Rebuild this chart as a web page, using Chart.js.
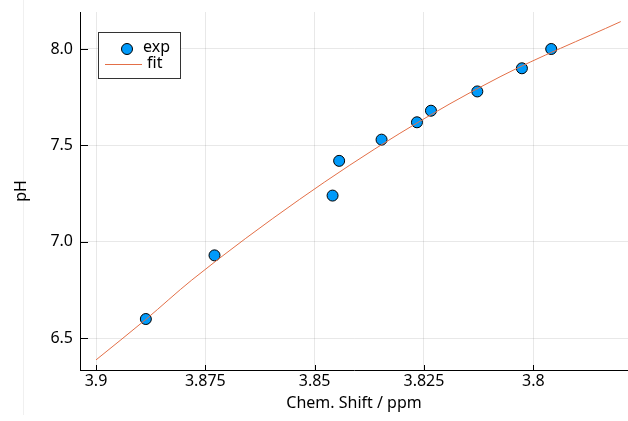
<!DOCTYPE html>
<html>
<head>
<meta charset="utf-8">
<script src="https://cdn.jsdelivr.net/npm/chart.js@4/dist/chart.umd.min.js"></script>
<style>
  html, body { margin: 0; padding: 0; background: #fff; }
  #wrap { width: 628px; height: 421px; }
</style>
</head>
<body>
<div id="wrap"><canvas id="c" width="628" height="421"></canvas></div>
<script>
// ---- data ----
const expShift = [3.8886, 3.8729, 3.8459, 3.8444, 3.8347, 3.8266, 3.8234, 3.8128, 3.8026, 3.7959];
const expPH    = [6.60,   6.93,   7.24,   7.42,   7.53,   7.62,   7.68,   7.78,   7.90,   8.00];

const fitShift = [3.9000, 3.8886, 3.8781, 3.8534, 3.8305, 3.8076, 3.7800];
const fitPH    = [6.388,  6.598,  6.802,  7.221,  7.563,  7.856,  8.142];

const xTickVals   = [3.9, 3.875, 3.85, 3.825, 3.8];
const xTickLabels = ['3.9', '3.875', '3.85', '3.825', '3.8'];
const yTickVals   = [6.5, 7.0, 7.5, 8.0];
const yTickLabels = ['6.5', '7.0', '7.5', '8.0'];

const seriesNames = ['exp', 'fit'];
const xTitle = 'Chem. Shift / ppm';
const yTitle = 'pH';

const BLUE = '#009AFA';
const ORANGE = '#E36F47';
const FONT = '"Noto Sans", "Open Sans", sans-serif';

const fitData = fitShift.map((x, i) => ({ x: x, y: fitPH[i] }));
const expData = expShift.map((x, i) => ({ x: x, y: expPH[i] }));

const innerTicks = {
  id: 'innerTicks',
  afterDraw(chart) {
    const ctx = chart.ctx;
    const xs = chart.scales.x, ys = chart.scales.y;
    const a = chart.chartArea;
    ctx.save();
    ctx.strokeStyle = '#000';
    ctx.lineWidth = 1;
    ctx.beginPath();
    xTickVals.forEach(v => {
      const px = Math.round(xs.getPixelForValue(v)) + 0.5;
      ctx.moveTo(px, a.bottom);
      ctx.lineTo(px, a.bottom - 5);
    });
    yTickVals.forEach(v => {
      const py = Math.round(ys.getPixelForValue(v)) + 0.5;
      ctx.moveTo(a.left, py);
      ctx.lineTo(a.left + 8, py);
    });
    ctx.stroke();
    // faint vertical line at far left
    ctx.strokeStyle = 'rgba(0,0,0,0.06)';
    ctx.beginPath();
    ctx.moveTo(23.5, 0);
    ctx.lineTo(23.5, 415);
    ctx.stroke();
    // legend
    const lx = a.left + 18.5, ly = a.top + 20.5, lw = 82, lh = 46;
    ctx.fillStyle = '#fff';
    ctx.fillRect(lx, ly, lw, lh);
    ctx.strokeStyle = '#333';
    ctx.strokeRect(lx, ly, lw, lh);
    ctx.beginPath();
    ctx.arc(a.left + 47, a.top + 37, 5.5, 0, Math.PI * 2);
    ctx.fillStyle = BLUE;
    ctx.fill();
    ctx.strokeStyle = '#000';
    ctx.stroke();
    ctx.beginPath();
    ctx.strokeStyle = ORANGE;
    ctx.moveTo(a.left + 25, a.top + 52.5);
    ctx.lineTo(a.left + 62, a.top + 52.5);
    ctx.stroke();
    ctx.fillStyle = '#000';
    ctx.font = '16px ' + FONT;
    ctx.textBaseline = 'middle';
    ctx.textAlign = 'left';
    ctx.fillText(seriesNames[0], a.left + 63, a.top + 35);
    ctx.fillText(seriesNames[1], a.left + 67, a.top + 51);
    ctx.restore();
  }
};

new Chart(document.getElementById('c'), {
  type: 'scatter',
  data: {
    datasets: [
      {
        label: seriesNames[1],
        type: 'line',
        data: fitData,
        showLine: true,
        borderColor: ORANGE,
        borderWidth: 1,
        pointRadius: 0,
        fill: false,
        cubicInterpolationMode: 'monotone'
      },
      {
        label: seriesNames[0],
        data: expData,
        pointRadius: 5.5,
        pointBackgroundColor: BLUE,
        pointBorderColor: '#000',
        pointBorderWidth: 1,
        showLine: false
      }
    ]
  },
  options: {
    responsive: false,
    animation: false,
    events: [],
    layout: { autoPadding: false, padding: { top: 12, right: 0, left: 0, bottom: 0 } },
    plugins: { legend: { display: false }, tooltip: { enabled: false } },
    scales: {
      x: {
        type: 'linear',
        reverse: true,
        min: 3.77834,
        max: 3.90366,
        afterBuildTicks: s => { s.ticks = xTickVals.map(v => ({ value: v })); },
        afterFit: s => { s.height = 51; s.paddingLeft = 0; s.paddingRight = 0; s.paddingTop = 0; s.paddingBottom = 0; },
        grid: { color: 'rgba(0,0,0,0.09)', lineWidth: 1, drawTicks: false },
        border: { display: true, color: '#000', width: 1 },
        ticks: {
          color: '#000',
          font: { family: FONT, size: 16 },
          padding: 2,
          maxRotation: 0,
          autoSkip: false,
          callback: v => xTickLabels[xTickVals.indexOf(v)]
        },
        title: {
          display: true, text: xTitle, color: '#000',
          font: { family: FONT, size: 16 },
          padding: { top: 0, bottom: 8 }
        }
      },
      y: {
        type: 'linear',
        min: 6.3357,
        max: 8.1918,
        afterBuildTicks: s => { s.ticks = yTickVals.map(v => ({ value: v })); },
        afterFit: s => { s.width = 80; s.paddingLeft = 0; s.paddingRight = 0; s.paddingTop = 0; s.paddingBottom = 0; },
        grid: { color: 'rgba(0,0,0,0.09)', lineWidth: 1, drawTicks: false },
        border: { display: true, color: '#000', width: 1 },
        ticks: {
          color: '#000',
          font: { family: FONT, size: 16 },
          padding: 7,
          autoSkip: false,
          callback: v => yTickLabels[yTickVals.indexOf(v)]
        },
        title: {
          display: true, text: yTitle, color: '#000',
          font: { family: FONT, size: 16 },
          padding: { top: 12, bottom: 0 }
        }
      }
    }
  },
  plugins: [innerTicks]
});
</script>
</body>
</html>
